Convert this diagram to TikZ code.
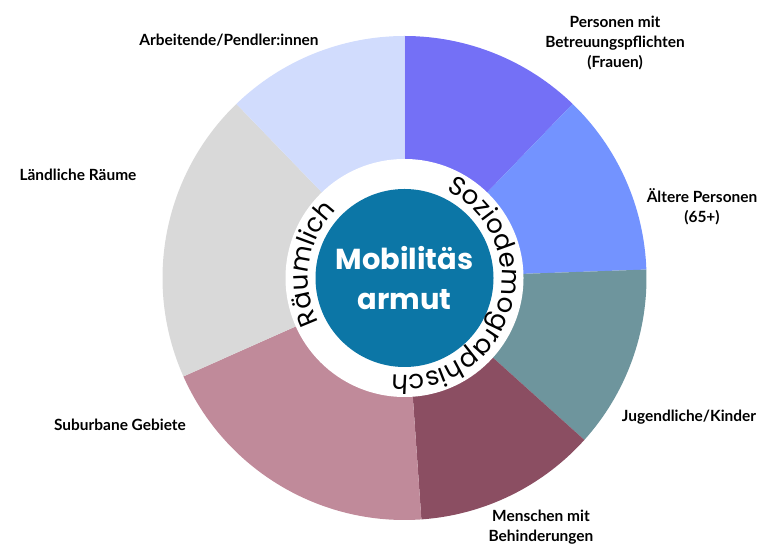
\documentclass[tikz,border=0pt]{standalone}
\usepackage{fontspec}
\setmainfont{Poppins}
\newfontfamily\labelfont{Lato}
\usetikzlibrary{decorations.text}
\definecolor{betreuung}{HTML}{7470F6}
\definecolor{aeltere}{HTML}{7393FF}
\definecolor{jugend}{HTML}{6E959D}
\definecolor{behind}{HTML}{8B4E62}
\definecolor{suburb}{HTML}{C08A9A}
\definecolor{laendl}{HTML}{D9D9D9}
\definecolor{pendler}{HTML}{D1DCFD}
\definecolor{mobblue}{HTML}{0C76A6}
\tikzset{seglabel/.style={font=\labelfont\bfseries\fontsize{15.5}{20.5}\selectfont, align=center, inner sep=0pt},
         ringtext/.style={decorate, decoration={text along path, text align=center, text={|\fontsize{26}{26}\selectfont|#1}}}}

\begin{document}
\begin{tikzpicture}[x=1bp,y=1bp]
  \useasboundingbox (0,0) rectangle (766,548);
  \coordinate (c) at (404.5,270);
  % sectors
  \foreach \a/\b/\col in {90/46/betreuung, 46/2/aeltere, 2/-42/jugend, -42/-86/behind,
                          -86/-156/suburb, 204/134/laendl, 134/90/pendler}
    \fill[\col] (c) -- ++(\a:242) arc[start angle=\a, end angle=\b, radius=242] -- cycle;
  \fill[white] (c) circle[radius=119];
  \node[circle, fill=mobblue, minimum size=178bp, inner sep=0pt, text=white, align=center,
        font=\bfseries\fontsize{29}{40}\selectfont] (mob) at (c) {Mobilitäs\\armut};
  % ring texts
  \path[ringtext={Räumlich}] (c) ++(213:96) arc[start angle=213, end angle=129, radius=96];
  \path[ringtext={Soziodemographisch}] (c) ++(60:97) arc[start angle=60, end angle=-93, radius=97];
  % labels
  \node[seglabel] (pendlerlbl) at (229,508) {Arbeitende/Pendler:innen};
  \node[seglabel] (betreuunglbl) at (615,505) {Personen mit\\Betreuungspflichten\\(Frauen)};
  \node[seglabel] (laendllbl) at (78,373) {Ländliche Räume};
  \node[seglabel] (aelterelbl) at (702,341) {Ältere Personen\\(65+)};
  \node[seglabel] (jugendlbl) at (689,131) {Jugendliche/Kinder};
  \node[seglabel] (suburblbl) at (120,123) {Suburbane Gebiete};
  \node[seglabel] (behindlbl) at (541,21) {Menschen mit\\Behinderungen};
\end{tikzpicture}
\end{document}
